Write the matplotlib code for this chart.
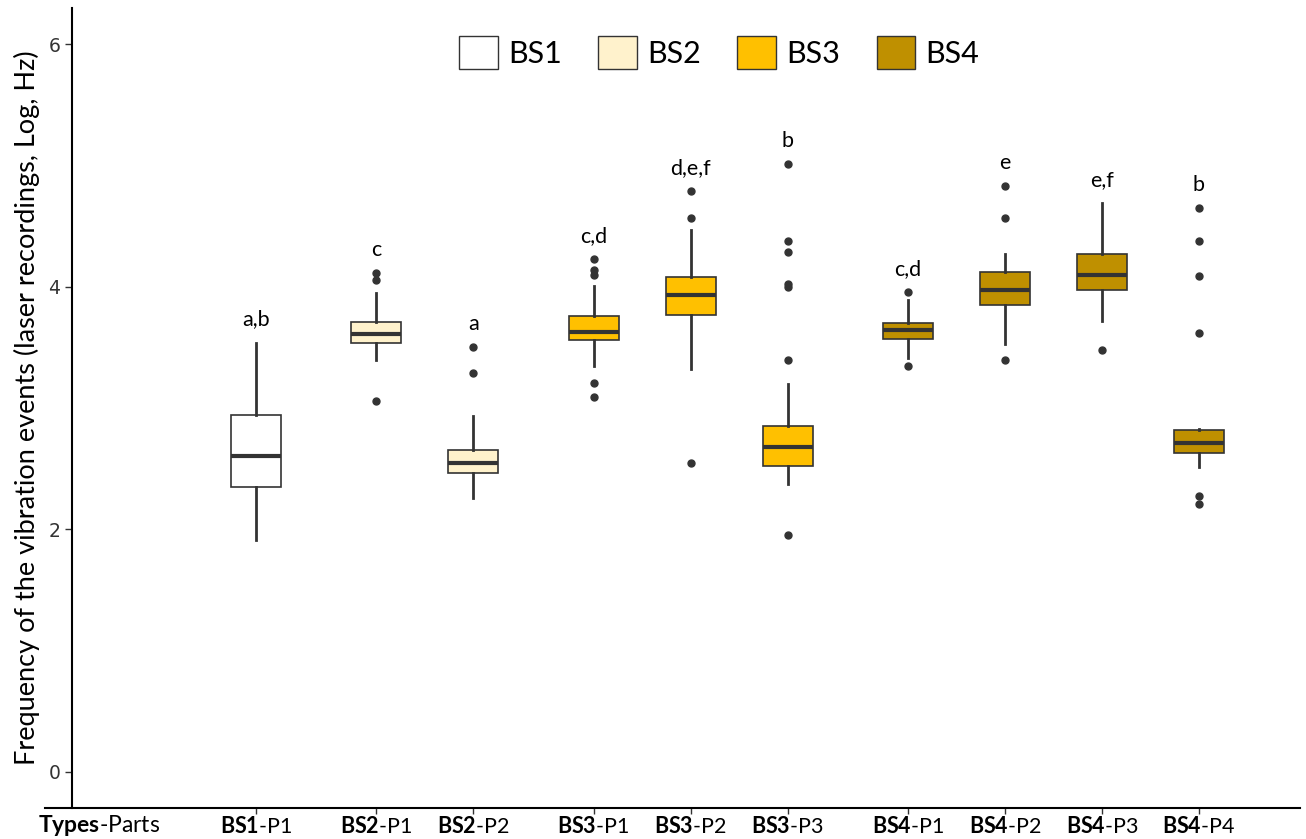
import matplotlib
matplotlib.use("Agg")
import matplotlib.pyplot as plt
from matplotlib.patches import Patch

plt.rcParams['font.family'] = ['Lato', 'DejaVu Sans']
plt.rcParams['mathtext.fontset'] = 'custom'
plt.rcParams['mathtext.rm'] = 'Lato'
plt.rcParams['mathtext.bf'] = 'Lato:bold'

# types and their fill colours
types = ["BS1", "BS2", "BS3", "BS4"]
type_colours = ["#FFFFFF", "#FFF2CC", "#FFC000", "#BF9000"]

# one entry per box
cat_type = ["BS1", "BS2", "BS2", "BS3", "BS3", "BS3", "BS4", "BS4", "BS4", "BS4"]
cat_part = ["P1", "P1", "P2", "P1", "P2", "P3", "P1", "P2", "P3", "P4"]

q1 = [2.35, 3.54, 2.46, 3.56, 3.77, 2.52, 3.57, 3.85, 3.97, 2.63]
med = [2.60, 3.61, 2.55, 3.63, 3.93, 2.68, 3.64, 3.97, 4.10, 2.71]
q3 = [2.94, 3.71, 2.65, 3.76, 4.08, 2.85, 3.70, 4.12, 4.27, 2.82]
whislo = [1.91, 3.40, 2.26, 3.35, 3.32, 2.37, 3.41, 3.53, 3.72, 2.51]
whishi = [3.54, 3.95, 2.93, 4.01, 4.47, 3.20, 3.89, 4.27, 4.69, 2.83]
outliers = [
    [],
    [3.06, 4.06, 4.11],
    [3.29, 3.50],
    [3.09, 3.21, 4.10, 4.14, 4.23],
    [2.55, 4.57, 4.79],
    [1.95, 3.40, 4.00, 4.02, 4.29, 4.38, 5.01],
    [3.35, 3.96],
    [3.40, 4.57, 4.83],
    [3.48],
    [2.21, 2.27, 3.62, 4.09, 4.38, 4.65],
]
letters = ["a,b", "c", "a", "c,d", "d,e,f", "b", "c,d", "e", "e,f", "b"]

# x positions: extra gap between types
gap = 0.24
pos = [i + gap * types.index(t) for i, t in enumerate(cat_type)]

fig = plt.figure(figsize=(13.06, 8.39), dpi=100)
ax = fig.add_axes([72 / 1306, 1 - 808 / 839, 1228 / 1306, 800 / 839])

stats = []
for i in range(len(cat_type)):
    stats.append(dict(q1=q1[i], med=med[i], q3=q3[i], whislo=whislo[i],
                      whishi=whishi[i], fliers=outliers[i]))

dark = "#333333"
bp = ax.bxp(stats, positions=pos, widths=0.515, showcaps=False,
            patch_artist=True,
            boxprops=dict(edgecolor=dark, linewidth=1.2),
            whiskerprops=dict(color=dark, linewidth=2),
            medianprops=dict(color=dark, linewidth=3),
            flierprops=dict(marker="o", markersize=5, markerfacecolor=dark,
                            markeredgecolor=dark))
for box, t in zip(bp["boxes"], cat_type):
    box.set_facecolor(type_colours[types.index(t)])

# significance letters above each box
for i, lab in enumerate(letters):
    top = max([whishi[i]] + outliers[i])
    ax.text(pos[i], top + 0.19, lab, ha="center", va="center", fontsize=15.5)

ax.set_xlim(-1.897, 10.763)
ax.set_ylim(-0.3, 6.3)
ax.set_yticks([0, 2, 4, 6])
ax.tick_params(axis="y", labelsize=13.5, labelcolor=dark, length=5,
               width=1, color=dark, labelfontfamily="DejaVu Sans")
ax.set_ylabel("Frequency of the vibration events (laser recordings, Log, Hz)",
              fontsize=19.5, labelpad=6)

ax.set_xticks(pos)
ax.set_xticklabels([f"$\\mathbf{{{t}}}$-{p}" for t, p in zip(cat_type, cat_part)],
                   fontsize=15.5)
ax.tick_params(axis="x", length=4, width=1, color=dark, pad=2)

for s in ["top", "right", "bottom"]:
    ax.spines[s].set_visible(False)
ax.spines["left"].set_linewidth(1.5)
ax.plot([-0.022, 1], [0, 0], transform=ax.transAxes, color="black",
        linewidth=1.5, clip_on=False)

fig.text(38 / 1306, 1 - 826 / 839, "$\\mathbf{Types}$-Parts", ha="left",
         va="center", fontsize=16.5)

handles = [Patch(facecolor=c, edgecolor=dark, linewidth=1) for c in type_colours]
ax.legend(handles, types, loc="center", bbox_to_anchor=(0.527, 0.944),
          ncol=4, frameon=False, fontsize=22, handlelength=1.27,
          handleheight=1.27, handletextpad=0.32, columnspacing=1.2)

fig.savefig("out.png", dpi=100)
